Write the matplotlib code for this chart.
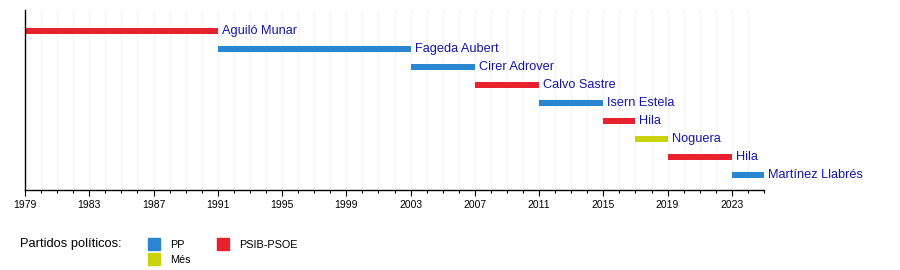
import matplotlib
matplotlib.use("Agg")
import matplotlib.pyplot as plt
from matplotlib.patches import Rectangle
import numpy as np

plt.rcParams['font.family'] = ['Liberation Sans', 'DejaVu Sans']

# alcaldes de Palma
names = ['Aguiló Munar', 'Fageda Aubert', 'Cirer Adrover', 'Calvo Sastre',
         'Isern Estela', 'Hila', 'Noguera', 'Hila', 'Martínez Llabrés']
start = [1979, 1991, 2003, 2007, 2011, 2015, 2017, 2019, 2023]
end = [1991, 2003, 2007, 2011, 2015, 2017, 2019, 2023, 2025]
party = ['PSIB-PSOE', 'PP', 'PP', 'PSIB-PSOE', 'PP', 'PSIB-PSOE', 'Més',
         'PSIB-PSOE', 'PP']

party_colors = {'PP': '#2a86d1', 'PSIB-PSOE': '#e8212e', 'Més': '#c9d30a'}
legend_order = ['PP', 'Més', 'PSIB-PSOE']
legend_title = 'Partidos políticos:'

year_min, year_max = 1979, 2025
major_ticks = np.arange(1979, 2024, 4)

W, H = 900, 270
fig = plt.figure(figsize=(W / 100, H / 100), dpi=100)
# axes: x from 25px to 764px, y from 10px to 190px
ax = fig.add_axes([25 / W, (H - 190) / H, (764 - 25) / W, 180 / H])

n = len(names)
ypos = np.arange(n)
ax.set_ylim(n - 1 + 15 / 18, -21 / 18)
ax.set_xlim(year_min, year_max)

# faint year grid
for yr in range(year_min + 1, year_max + 1):
    ax.axvline(yr, color='#f3f3f3', lw=1, zorder=0)

for i in range(n):
    ax.barh(ypos[i], end[i] - start[i], left=start[i], height=6 / 18,
            color=party_colors[party[i]], zorder=2)
    ax.text(end[i] + 0.25, ypos[i], names[i], va='center', ha='left',
            fontsize=9.2, color='#1414b0', zorder=3)

ax.set_xticks(major_ticks)
ax.set_xticks(np.arange(year_min, year_max + 1), minor=True)
ax.tick_params(axis='x', which='major', length=4, width=0.8, labelsize=7.5, pad=3)
ax.tick_params(axis='x', which='minor', length=2.5, width=0.8)
ax.set_yticks([])
for s in ['top', 'right']:
    ax.spines[s].set_visible(False)
ax.spines['left'].set_linewidth(1)
ax.spines['bottom'].set_linewidth(1)

# legend
fig.text(20 / W, 1 - 244 / H, legend_title, fontsize=9.3, va='center', ha='left')
leg_pos = {'PP': (148, 238), 'Més': (148, 253), 'PSIB-PSOE': (217, 238)}
for p in legend_order:
    x0, y0 = leg_pos[p]
    fig.patches.append(Rectangle((x0 / W, 1 - (y0 + 12) / H), 12 / W, 12 / H,
                                 transform=fig.transFigure,
                                 color=party_colors[p]))
    fig.text((x0 + 22) / W, 1 - (y0 + 7) / H, p, fontsize=7.8,
             va='center', ha='left')

fig.savefig('out.png', dpi=100)
